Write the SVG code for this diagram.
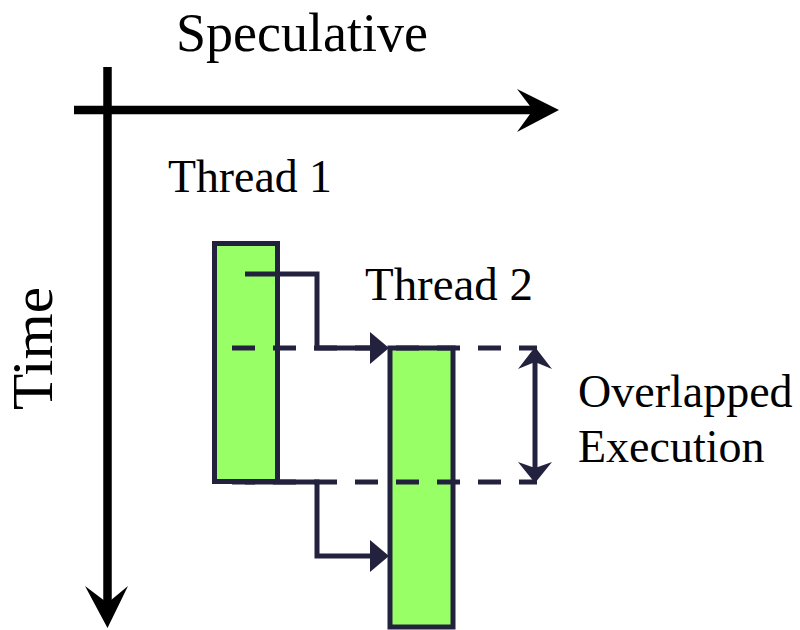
<svg xmlns="http://www.w3.org/2000/svg" width="800" height="630" viewBox="0 0 800 630">
  <style>
    .lbl { font-family: "Liberation Serif", "DejaVu Serif", serif; fill: #000; }
    .thread { fill: #99FF66; stroke: #22223F; stroke-width: 5; }
    .wire { fill: none; stroke: #22223F; stroke-width: 5; }
    .dash { fill: none; stroke: #22223F; stroke-width: 5; stroke-dasharray: 23 18; }
    .head { fill: #22223F; }
    .axis { stroke: #000; stroke-width: 8.5; }
  </style>
  <rect width="800" height="630" fill="#fff"/>

  <!-- axes -->
  <g id="axes">
    <line class="axis" x1="74" y1="110" x2="535" y2="110"/>
    <path d="M559,110 L517,89 L533,110 L517,132 Z" fill="#000"/>
    <line class="axis" x1="107.5" y1="67" x2="107.5" y2="605"/>
    <path d="M107.5,628 L85,586 L107.5,603 L128,586 Z" fill="#000"/>
    <text class="lbl" x="302" y="51" font-size="54" text-anchor="middle">Speculative</text>
    <text class="lbl" font-size="58" text-anchor="middle" textLength="123" lengthAdjust="spacingAndGlyphs" transform="translate(52,348.5) rotate(-90)">Time</text>
  </g>

  <!-- thread blocks -->
  <g id="thread1">
    <rect class="thread" x="214.5" y="243.5" width="63" height="238"/>
    <text class="lbl" x="168" y="192" font-size="45.5" textLength="164" lengthAdjust="spacingAndGlyphs">Thread 1</text>
  </g>
  <g id="thread2">
    <rect class="thread" x="390" y="348" width="63" height="279"/>
    <text class="lbl" x="365" y="300" font-size="45.5" textLength="168" lengthAdjust="spacingAndGlyphs">Thread 2</text>
  </g>

  <!-- connectors -->
  <g id="connectors">
    <line class="dash" x1="232" y1="348" x2="537" y2="348"/>
    <line class="dash" x1="232" y1="482" x2="537" y2="482"/>
    <path class="wire" d="M245,274 H317 V348 H372"/>
    <path class="head" d="M389,348 L370,332 L370,364 Z"/>
    <path class="wire" d="M245,482 H317 V556 H372"/>
    <path class="head" d="M389,556 L370,540 L370,572 Z"/>
    <line class="wire" x1="535" y1="361" x2="535" y2="469"/>
    <path class="head" d="M535,347 L552,369 L535,362 L518,369 Z"/>
    <path class="head" d="M535,483 L552,462 L535,468 L518,462 Z"/>
  </g>

  <g id="overlap-label">
    <text class="lbl" x="578" y="407" font-size="46">Overlapped</text>
    <text class="lbl" x="578" y="462" font-size="46">Execution</text>
  </g>
</svg>
